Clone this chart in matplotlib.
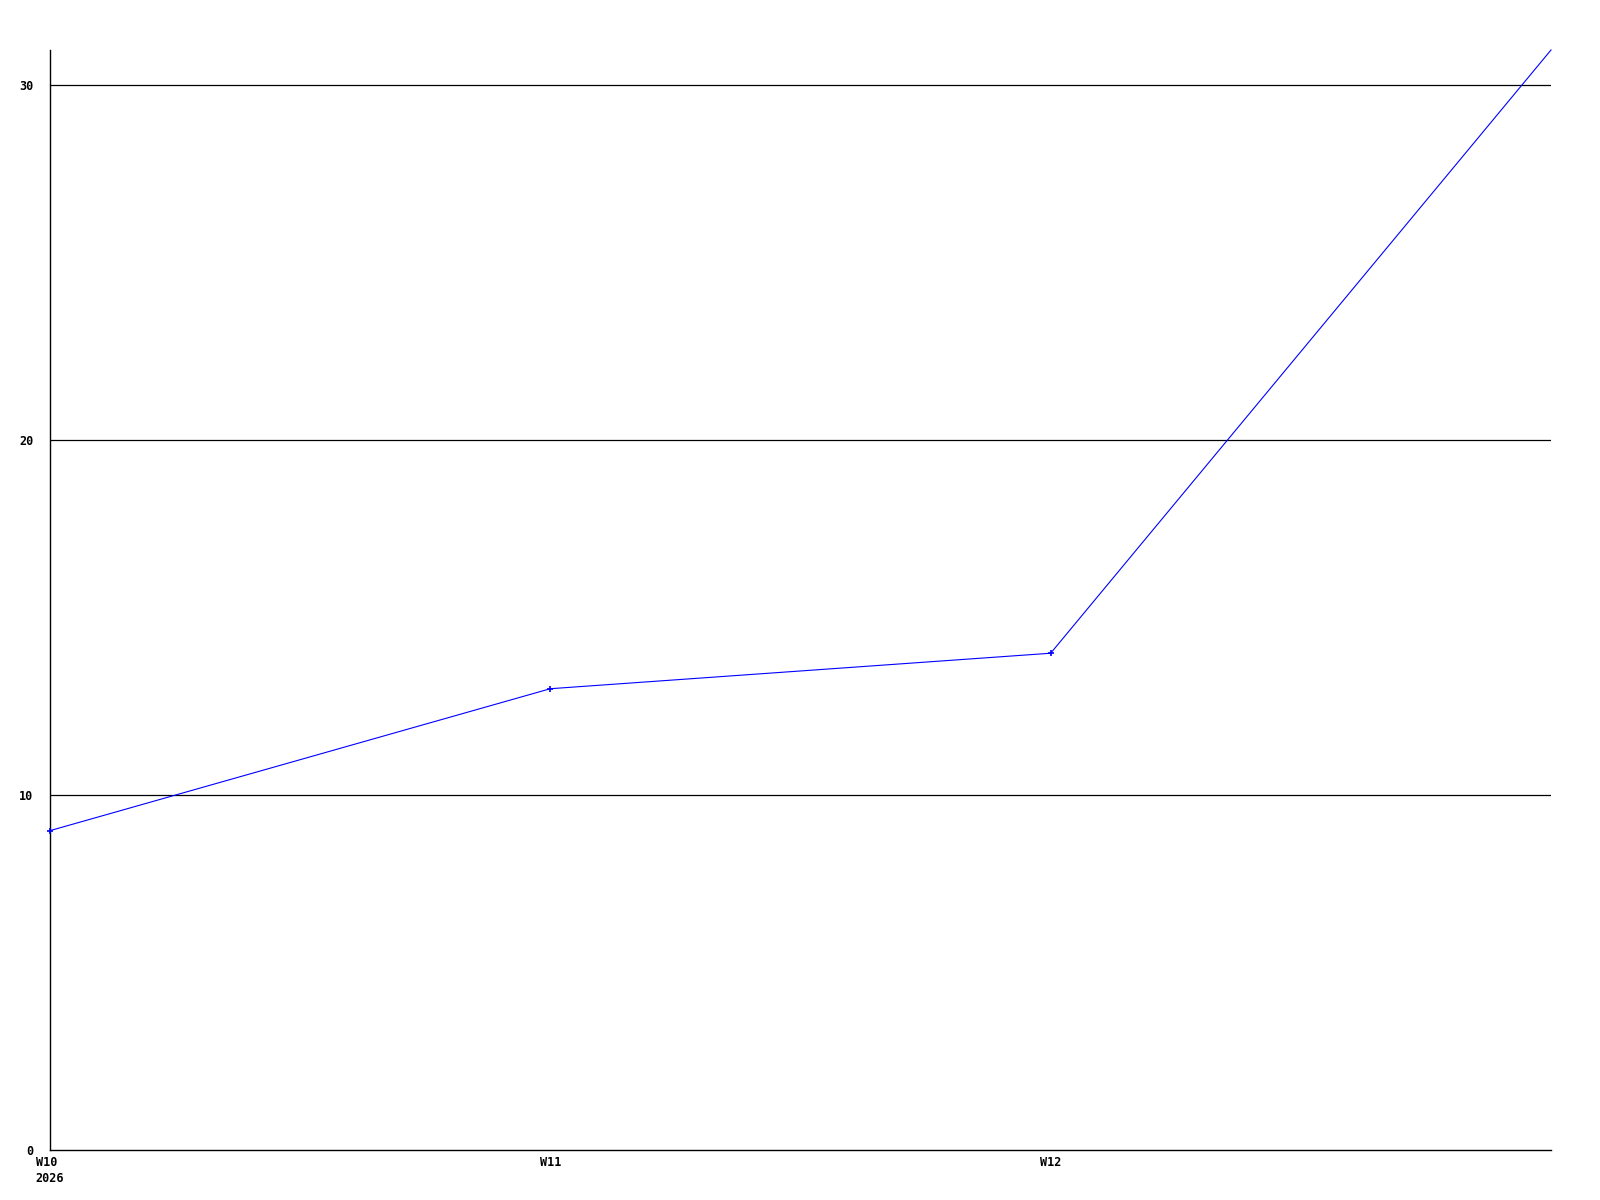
import matplotlib
matplotlib.use("Agg")
import matplotlib.pyplot as plt

# weekly counts
weeks = ["W10", "W11", "W12", "W13"]
values = [9, 13, 14, 31]
tick_labels = ["W10\n2026", "W11", "W12"]
y_ticks = [0, 10, 20, 30]

plt.rcParams["font.family"] = "DejaVu Sans Mono"

fig = plt.figure(figsize=(16, 12), dpi=100)
ax = fig.add_axes([50 / 1600, 50 / 1200, 1501 / 1600, 1100 / 1200])

x = list(range(len(weeks)))
ax.plot(x, values, color="#0000ff", linewidth=0.8, marker="+",
        markersize=5, markeredgewidth=1.2, markevery=[0, 1, 2],
        clip_on=False, zorder=3)

for yv in y_ticks[1:]:
    ax.axhline(yv, color="black", linewidth=0.9, zorder=1)

ax.set_xlim(0, 3)
ax.set_ylim(0, 31)
ax.set_xticks(x[:3])
ax.set_xticklabels(tick_labels, fontsize=8.5, fontweight="bold",
                   multialignment="left", linespacing=1.3)
ax.set_yticks(y_ticks)
ax.set_yticklabels([str(v) for v in y_ticks], fontsize=8.5, fontweight="bold")
ax.tick_params(length=0)
ax.tick_params(axis="y", pad=12)
ax.tick_params(axis="x", pad=4)

for side in ["top", "right"]:
    ax.spines[side].set_visible(False)
for side in ["left", "bottom"]:
    ax.spines[side].set_linewidth(1.0)

fig.savefig("out.png", dpi=100, facecolor="white")
